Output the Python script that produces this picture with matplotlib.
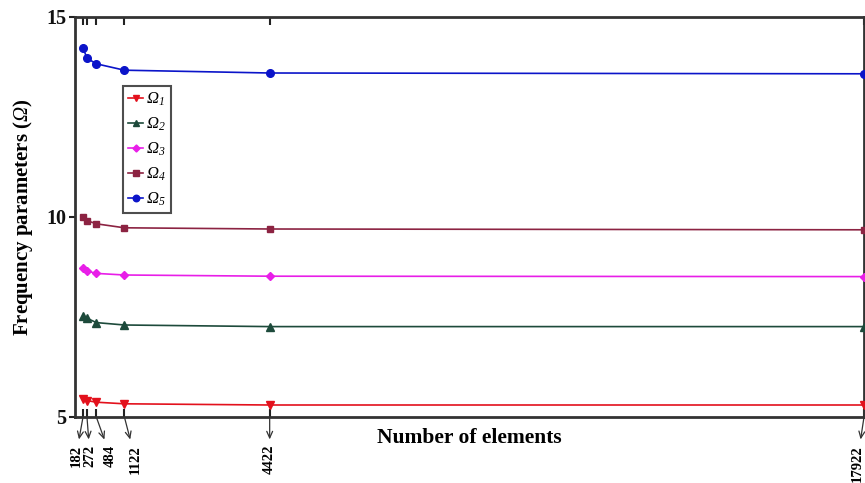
import matplotlib
matplotlib.use("Agg")
import matplotlib.pyplot as plt

# Mesh sizes and the first five frequency parameters
elements = [182, 272, 484, 1122, 4422, 17922]
omega1 = [5.44, 5.41, 5.37, 5.33, 5.30, 5.30]
omega2 = [7.53, 7.47, 7.36, 7.30, 7.26, 7.26]
omega3 = [8.73, 8.65, 8.59, 8.55, 8.52, 8.51]
omega4 = [10.00, 9.91, 9.83, 9.73, 9.70, 9.68]
omega5 = [14.23, 13.97, 13.83, 13.67, 13.60, 13.58]
series_names = [r"$\Omega_1$", r"$\Omega_2$", r"$\Omega_3$", r"$\Omega_4$", r"$\Omega_5$"]
y_ticks = [5, 10, 15]

plt.rcParams["font.family"] = ["Liberation Serif", "DejaVu Serif"]
# Math symbols in a slanted Times-like face
plt.rcParams["mathtext.fontset"] = "custom"
plt.rcParams["mathtext.rm"] = "Liberation Serif:italic"
plt.rcParams["mathtext.it"] = "Liberation Serif:italic"
plt.rcParams["mathtext.bf"] = "Liberation Serif:bold"

fig = plt.figure(figsize=(8.65, 4.83), dpi=100)
ax = fig.add_axes([75 / 865, 66 / 483, 789 / 865, 400 / 483])

styles = [
    ("#e3111c", "v", 5.5),
    ("#1d4a3b", "^", 5.5),
    ("#e81ee8", "D", 4.2),
    ("#8c2342", "s", 4.5),
    ("#0b14c9", "o", 5.5),
]
for vals, name, (col, mk, ms) in zip([omega1, omega2, omega3, omega4, omega5],
                                     series_names, styles):
    ax.plot(elements, vals, color=col, marker=mk, markersize=ms, lw=1.2,
            label=name, clip_on=False, zorder=3)

ax.set_xlim(0, 17922)
ax.set_ylim(5, 15)
ax.set_yticks(y_ticks)
ax.set_yticklabels([str(t) for t in y_ticks], fontsize=14.5, fontweight="bold")
ax.tick_params(axis="y", direction="out", length=4, width=1.5, pad=2, colors="#222222")
ax.tick_params(axis="y", labelcolor="#111111")

ax.set_xticks(elements)
ax.tick_params(axis="x", direction="in", length=6, width=1.5, top=True, bottom=True,
               labelbottom=False, colors="#222222")

for sp in ax.spines.values():
    sp.set_linewidth(2)
    sp.set_color("#333333")

# Tick values written below the axis, linked to their ticks by arrows
label_offsets_px = [-7, 3, 14, 11, 0, -7]
for x, dx in zip(elements, label_offsets_px):
    ax.annotate(str(x), xy=(x, 5), xycoords="data",
                xytext=(dx, -28), textcoords="offset pixels",
                rotation=90, ha="center", va="top", fontsize=10.5, fontweight="bold",
                annotation_clip=False,
                arrowprops=dict(arrowstyle="<-, head_length=0.45, head_width=0.2",
                                color="#333333", lw=0.9, shrinkA=2, shrinkB=1))

ax.set_xlabel("Number of elements", fontsize=15.5, fontweight="bold", labelpad=8)
ax.set_ylabel(r"Frequency parameters ($\Omega$)", fontsize=15,
              fontweight="bold", labelpad=8)

leg = ax.legend(loc="upper left", bbox_to_anchor=(0.061, 0.8275), frameon=True,
                fancybox=False, edgecolor="#222222", fontsize=12, handlelength=0.9,
                handletextpad=0.2, borderpad=0.3, labelspacing=0.45,
                borderaxespad=0, markerscale=0.85)
leg.get_frame().set_linewidth(1.5)

fig.savefig("out.png", dpi=100)
